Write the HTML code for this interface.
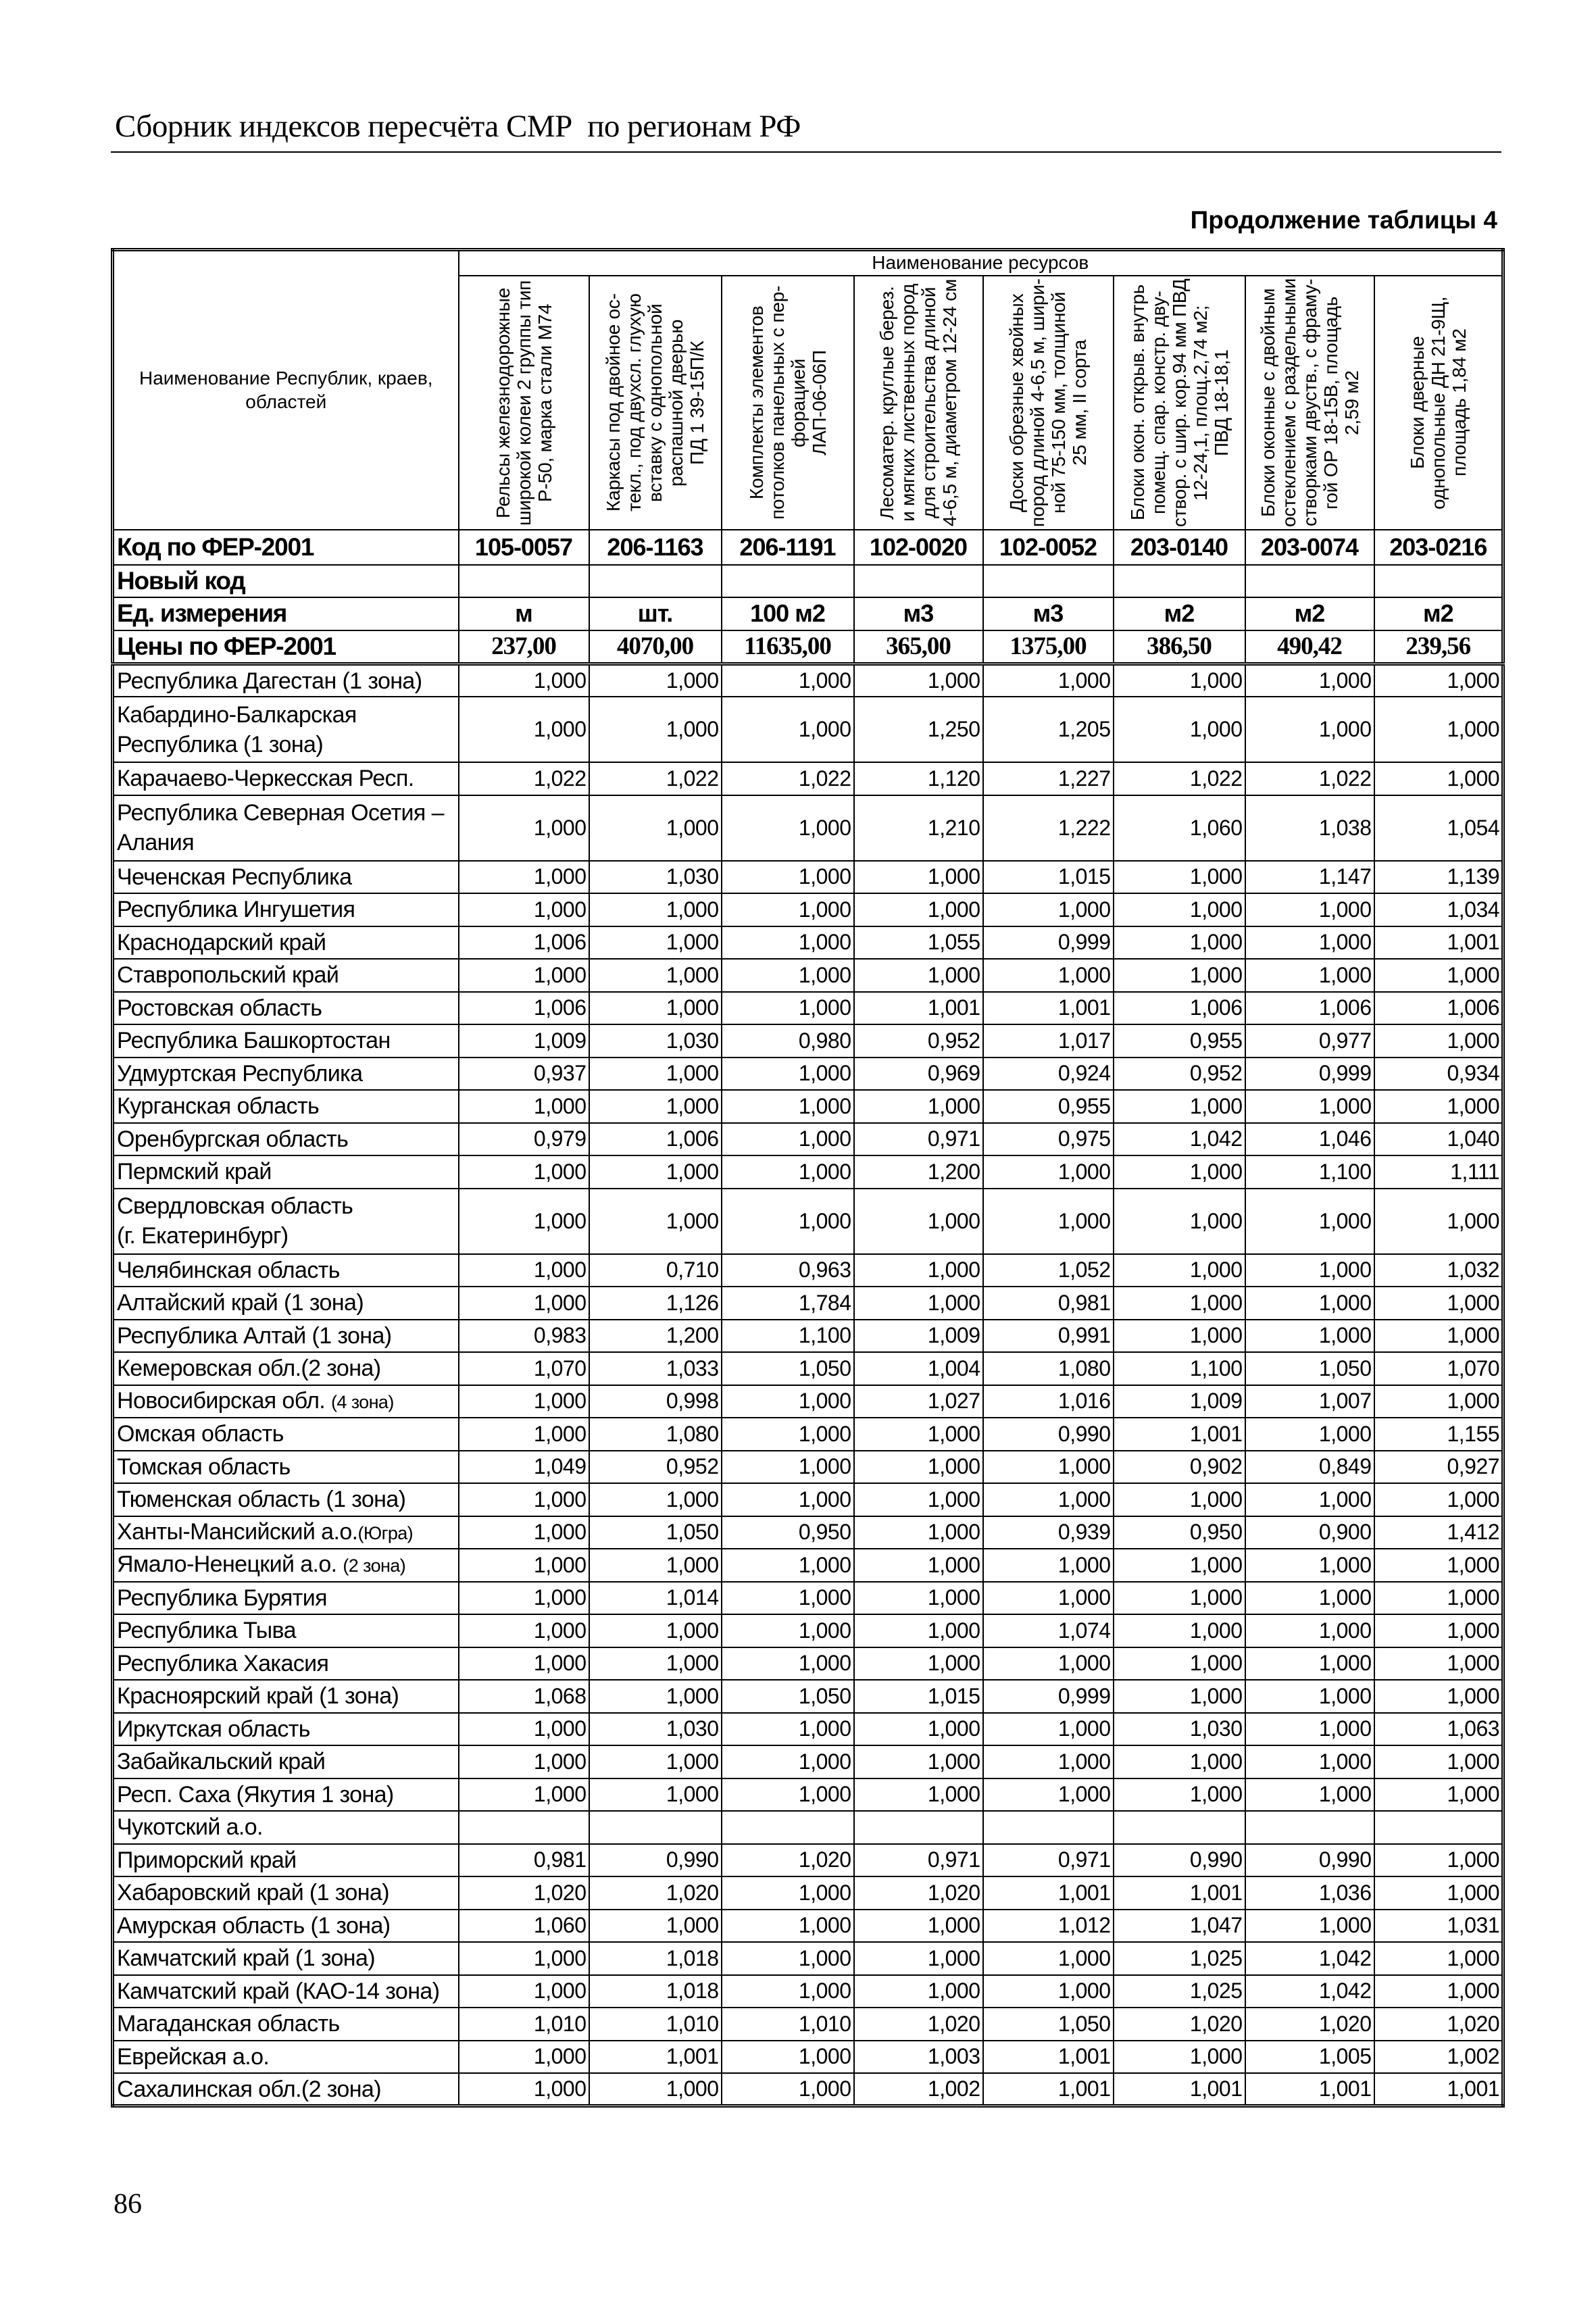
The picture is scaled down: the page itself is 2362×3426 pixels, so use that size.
<!DOCTYPE html>
<html><head><meta charset="utf-8">
<style>
html,body{margin:0;padding:0;background:#fff;}
body{width:2362px;height:3426px;position:relative;overflow:hidden;color:#000;font-family:"Liberation Sans",sans-serif;}
.hdr{position:absolute;left:170px;top:160px;font-family:"Liberation Serif",serif;font-size:47px;letter-spacing:-0.5px;white-space:nowrap;}
.hline{position:absolute;left:164px;top:224px;width:2058px;height:2px;background:#000;}
.cont{position:absolute;right:146px;top:305px;font-weight:bold;font-size:37px;white-space:nowrap;}
.pg{position:absolute;left:168px;top:3238px;font-family:"Liberation Serif",serif;font-size:42px;}
table{position:absolute;left:164px;top:367px;border-collapse:collapse;table-layout:fixed;width:2058px;border:5px double #000;}
td{border:2px solid #000;padding:0;overflow:hidden;box-sizing:border-box;}
.rh td{height:48.5px;}
.rh2 td{height:97px;}
.lab{font-size:34px;line-height:44px;padding-left:4px;letter-spacing:-0.6px;white-space:nowrap;}
.n{text-align:right;font-size:32px;padding-right:3px;letter-spacing:-0.5px;}
.b{font-weight:bold;font-size:37px;letter-spacing:-1.2px;padding-left:4px;white-space:nowrap;}
.bc{font-weight:bold;font-size:36px;letter-spacing:-1px;text-align:center;}
.pr{font-weight:bold;font-family:"Liberation Serif",serif;font-size:37px;text-align:center;letter-spacing:-1px;}
.vt{writing-mode:vertical-rl;transform:rotate(180deg);height:368px;margin:auto;font-size:28px;line-height:31px;text-align:center;white-space:nowrap;display:flex;justify-content:center;letter-spacing:-0.2px;}
.top td{height:38px;}
.dbl td{border-bottom:5px double #000;}
</style></head><body>
<div class="hdr">Сборник индексов пересчёта СМР&nbsp; по регионам РФ</div>
<div class="hline"></div>
<div class="cont">Продолжение таблицы 4</div>
<table>
<colgroup><col style="width:512px"><col style="width:193px"><col style="width:196px"><col style="width:196px"><col style="width:191px"><col style="width:193px"><col style="width:195px"><col style="width:191px"><col style="width:191px"></colgroup>
<tr class="top"><td rowspan="2" style="text-align:center;font-size:28px;line-height:35px;">Наименование Республик, краев,<br>областей</td><td colspan="8" style="text-align:center;font-size:28px;">Наименование ресурсов</td></tr>
<tr style="height:376px"><td><div class="vt">Рельсы железнодорожные<br>широкой колеи 2 группы тип<br>Р-50, марка стали М74</div></td>
<td><div class="vt">Каркасы под двойное ос-<br>текл., под двухсл. глухую<br>вставку с однопольной<br>распашной дверью<br>ПД 1 39-15П/К</div></td>
<td><div class="vt">Комплекты элементов<br>потолков панельных с пер-<br>форацией<br>ЛАП-06-06П</div></td>
<td><div class="vt">Лесоматер. круглые берез.<br>и мягких лиственных пород<br>для строительства длиной<br>4-6,5 м, диаметром 12-24 см</div></td>
<td><div class="vt">Доски обрезные хвойных<br>пород длиной 4-6,5 м, шири-<br>ной 75-150 мм, толщиной<br>25 мм, II сорта</div></td>
<td><div class="vt">Блоки окон. открыв. внутрь<br>помещ. спар. констр. дву-<br>створ. с шир. кор.94 мм ПВД<br>12-24,1, площ.2,74 м2;<br>ПВД 18-18,1</div></td>
<td><div class="vt">Блоки оконные с двойным<br>остеклением с раздельными<br>створками двуств., с фраму-<br>гой ОР 18-15В, площадь<br>2,59 м2</div></td>
<td><div class="vt">Блоки дверные<br>однопольные ДН 21-9Щ,<br>площадь 1,84 м2</div></td></tr>
<tr style="height:52px"><td class="b">Код по ФЕР-2001</td><td class="bc">105-0057</td><td class="bc">206-1163</td><td class="bc">206-1191</td><td class="bc">102-0020</td><td class="bc">102-0052</td><td class="bc">203-0140</td><td class="bc">203-0074</td><td class="bc">203-0216</td></tr>
<tr style="height:48px"><td class="b">Новый код</td><td></td><td></td><td></td><td></td><td></td><td></td><td></td><td></td></tr>
<tr style="height:49px"><td class="b">Ед. измерения</td><td class="bc">м</td><td class="bc">шт.</td><td class="bc">100 м2</td><td class="bc">м3</td><td class="bc">м3</td><td class="bc">м2</td><td class="bc">м2</td><td class="bc">м2</td></tr>
<tr class="dbl" style="height:50px"><td class="b">Цены по ФЕР-2001</td><td class="pr">237,00</td><td class="pr">4070,00</td><td class="pr">11635,00</td><td class="pr">365,00</td><td class="pr">1375,00</td><td class="pr">386,50</td><td class="pr">490,42</td><td class="pr">239,56</td></tr>
<tr class="rh"><td class="lab">Республика Дагестан (1 зона)</td><td class="n">1,000</td><td class="n">1,000</td><td class="n">1,000</td><td class="n">1,000</td><td class="n">1,000</td><td class="n">1,000</td><td class="n">1,000</td><td class="n">1,000</td></tr>
<tr class="rh2"><td class="lab">Кабардино-Балкарская<br>Республика (1 зона)</td><td class="n">1,000</td><td class="n">1,000</td><td class="n">1,000</td><td class="n">1,250</td><td class="n">1,205</td><td class="n">1,000</td><td class="n">1,000</td><td class="n">1,000</td></tr>
<tr class="rh"><td class="lab">Карачаево-Черкесская Респ.</td><td class="n">1,022</td><td class="n">1,022</td><td class="n">1,022</td><td class="n">1,120</td><td class="n">1,227</td><td class="n">1,022</td><td class="n">1,022</td><td class="n">1,000</td></tr>
<tr class="rh2"><td class="lab">Республика Северная Осетия –<br>Алания</td><td class="n">1,000</td><td class="n">1,000</td><td class="n">1,000</td><td class="n">1,210</td><td class="n">1,222</td><td class="n">1,060</td><td class="n">1,038</td><td class="n">1,054</td></tr>
<tr class="rh"><td class="lab">Чеченская Республика</td><td class="n">1,000</td><td class="n">1,030</td><td class="n">1,000</td><td class="n">1,000</td><td class="n">1,015</td><td class="n">1,000</td><td class="n">1,147</td><td class="n">1,139</td></tr>
<tr class="rh"><td class="lab">Республика Ингушетия</td><td class="n">1,000</td><td class="n">1,000</td><td class="n">1,000</td><td class="n">1,000</td><td class="n">1,000</td><td class="n">1,000</td><td class="n">1,000</td><td class="n">1,034</td></tr>
<tr class="rh"><td class="lab">Краснодарский край</td><td class="n">1,006</td><td class="n">1,000</td><td class="n">1,000</td><td class="n">1,055</td><td class="n">0,999</td><td class="n">1,000</td><td class="n">1,000</td><td class="n">1,001</td></tr>
<tr class="rh"><td class="lab">Ставропольский край</td><td class="n">1,000</td><td class="n">1,000</td><td class="n">1,000</td><td class="n">1,000</td><td class="n">1,000</td><td class="n">1,000</td><td class="n">1,000</td><td class="n">1,000</td></tr>
<tr class="rh"><td class="lab">Ростовская область</td><td class="n">1,006</td><td class="n">1,000</td><td class="n">1,000</td><td class="n">1,001</td><td class="n">1,001</td><td class="n">1,006</td><td class="n">1,006</td><td class="n">1,006</td></tr>
<tr class="rh"><td class="lab">Республика Башкортостан</td><td class="n">1,009</td><td class="n">1,030</td><td class="n">0,980</td><td class="n">0,952</td><td class="n">1,017</td><td class="n">0,955</td><td class="n">0,977</td><td class="n">1,000</td></tr>
<tr class="rh"><td class="lab">Удмуртская Республика</td><td class="n">0,937</td><td class="n">1,000</td><td class="n">1,000</td><td class="n">0,969</td><td class="n">0,924</td><td class="n">0,952</td><td class="n">0,999</td><td class="n">0,934</td></tr>
<tr class="rh"><td class="lab">Курганская область</td><td class="n">1,000</td><td class="n">1,000</td><td class="n">1,000</td><td class="n">1,000</td><td class="n">0,955</td><td class="n">1,000</td><td class="n">1,000</td><td class="n">1,000</td></tr>
<tr class="rh"><td class="lab">Оренбургская область</td><td class="n">0,979</td><td class="n">1,006</td><td class="n">1,000</td><td class="n">0,971</td><td class="n">0,975</td><td class="n">1,042</td><td class="n">1,046</td><td class="n">1,040</td></tr>
<tr class="rh"><td class="lab">Пермский край</td><td class="n">1,000</td><td class="n">1,000</td><td class="n">1,000</td><td class="n">1,200</td><td class="n">1,000</td><td class="n">1,000</td><td class="n">1,100</td><td class="n">1,111</td></tr>
<tr class="rh2"><td class="lab">Свердловская область<br>(г. Екатеринбург)</td><td class="n">1,000</td><td class="n">1,000</td><td class="n">1,000</td><td class="n">1,000</td><td class="n">1,000</td><td class="n">1,000</td><td class="n">1,000</td><td class="n">1,000</td></tr>
<tr class="rh"><td class="lab">Челябинская область</td><td class="n">1,000</td><td class="n">0,710</td><td class="n">0,963</td><td class="n">1,000</td><td class="n">1,052</td><td class="n">1,000</td><td class="n">1,000</td><td class="n">1,032</td></tr>
<tr class="rh"><td class="lab">Алтайский край (1 зона)</td><td class="n">1,000</td><td class="n">1,126</td><td class="n">1,784</td><td class="n">1,000</td><td class="n">0,981</td><td class="n">1,000</td><td class="n">1,000</td><td class="n">1,000</td></tr>
<tr class="rh"><td class="lab">Республика Алтай (1 зона)</td><td class="n">0,983</td><td class="n">1,200</td><td class="n">1,100</td><td class="n">1,009</td><td class="n">0,991</td><td class="n">1,000</td><td class="n">1,000</td><td class="n">1,000</td></tr>
<tr class="rh"><td class="lab">Кемеровская обл.(2 зона)</td><td class="n">1,070</td><td class="n">1,033</td><td class="n">1,050</td><td class="n">1,004</td><td class="n">1,080</td><td class="n">1,100</td><td class="n">1,050</td><td class="n">1,070</td></tr>
<tr class="rh"><td class="lab">Новосибирская обл. <span style="font-size:27px">(4 зона)</span></td><td class="n">1,000</td><td class="n">0,998</td><td class="n">1,000</td><td class="n">1,027</td><td class="n">1,016</td><td class="n">1,009</td><td class="n">1,007</td><td class="n">1,000</td></tr>
<tr class="rh"><td class="lab">Омская область</td><td class="n">1,000</td><td class="n">1,080</td><td class="n">1,000</td><td class="n">1,000</td><td class="n">0,990</td><td class="n">1,001</td><td class="n">1,000</td><td class="n">1,155</td></tr>
<tr class="rh"><td class="lab">Томская область</td><td class="n">1,049</td><td class="n">0,952</td><td class="n">1,000</td><td class="n">1,000</td><td class="n">1,000</td><td class="n">0,902</td><td class="n">0,849</td><td class="n">0,927</td></tr>
<tr class="rh"><td class="lab">Тюменская область (1 зона)</td><td class="n">1,000</td><td class="n">1,000</td><td class="n">1,000</td><td class="n">1,000</td><td class="n">1,000</td><td class="n">1,000</td><td class="n">1,000</td><td class="n">1,000</td></tr>
<tr class="rh"><td class="lab">Ханты-Мансийский а.о.<span style="font-size:27px">(Югра)</span></td><td class="n">1,000</td><td class="n">1,050</td><td class="n">0,950</td><td class="n">1,000</td><td class="n">0,939</td><td class="n">0,950</td><td class="n">0,900</td><td class="n">1,412</td></tr>
<tr class="rh"><td class="lab">Ямало-Ненецкий а.о. <span style="font-size:27px">(2 зона)</span></td><td class="n">1,000</td><td class="n">1,000</td><td class="n">1,000</td><td class="n">1,000</td><td class="n">1,000</td><td class="n">1,000</td><td class="n">1,000</td><td class="n">1,000</td></tr>
<tr class="rh"><td class="lab">Республика Бурятия</td><td class="n">1,000</td><td class="n">1,014</td><td class="n">1,000</td><td class="n">1,000</td><td class="n">1,000</td><td class="n">1,000</td><td class="n">1,000</td><td class="n">1,000</td></tr>
<tr class="rh"><td class="lab">Республика Тыва</td><td class="n">1,000</td><td class="n">1,000</td><td class="n">1,000</td><td class="n">1,000</td><td class="n">1,074</td><td class="n">1,000</td><td class="n">1,000</td><td class="n">1,000</td></tr>
<tr class="rh"><td class="lab">Республика Хакасия</td><td class="n">1,000</td><td class="n">1,000</td><td class="n">1,000</td><td class="n">1,000</td><td class="n">1,000</td><td class="n">1,000</td><td class="n">1,000</td><td class="n">1,000</td></tr>
<tr class="rh"><td class="lab">Красноярский край (1 зона)</td><td class="n">1,068</td><td class="n">1,000</td><td class="n">1,050</td><td class="n">1,015</td><td class="n">0,999</td><td class="n">1,000</td><td class="n">1,000</td><td class="n">1,000</td></tr>
<tr class="rh"><td class="lab">Иркутская область</td><td class="n">1,000</td><td class="n">1,030</td><td class="n">1,000</td><td class="n">1,000</td><td class="n">1,000</td><td class="n">1,030</td><td class="n">1,000</td><td class="n">1,063</td></tr>
<tr class="rh"><td class="lab">Забайкальский край</td><td class="n">1,000</td><td class="n">1,000</td><td class="n">1,000</td><td class="n">1,000</td><td class="n">1,000</td><td class="n">1,000</td><td class="n">1,000</td><td class="n">1,000</td></tr>
<tr class="rh"><td class="lab">Респ. Саха (Якутия 1 зона)</td><td class="n">1,000</td><td class="n">1,000</td><td class="n">1,000</td><td class="n">1,000</td><td class="n">1,000</td><td class="n">1,000</td><td class="n">1,000</td><td class="n">1,000</td></tr>
<tr class="rh"><td class="lab">Чукотский а.о.</td><td></td><td></td><td></td><td></td><td></td><td></td><td></td><td></td></tr>
<tr class="rh"><td class="lab">Приморский край</td><td class="n">0,981</td><td class="n">0,990</td><td class="n">1,020</td><td class="n">0,971</td><td class="n">0,971</td><td class="n">0,990</td><td class="n">0,990</td><td class="n">1,000</td></tr>
<tr class="rh"><td class="lab">Хабаровский край (1 зона)</td><td class="n">1,020</td><td class="n">1,020</td><td class="n">1,000</td><td class="n">1,020</td><td class="n">1,001</td><td class="n">1,001</td><td class="n">1,036</td><td class="n">1,000</td></tr>
<tr class="rh"><td class="lab">Амурская область (1 зона)</td><td class="n">1,060</td><td class="n">1,000</td><td class="n">1,000</td><td class="n">1,000</td><td class="n">1,012</td><td class="n">1,047</td><td class="n">1,000</td><td class="n">1,031</td></tr>
<tr class="rh"><td class="lab">Камчатский край (1 зона)</td><td class="n">1,000</td><td class="n">1,018</td><td class="n">1,000</td><td class="n">1,000</td><td class="n">1,000</td><td class="n">1,025</td><td class="n">1,042</td><td class="n">1,000</td></tr>
<tr class="rh"><td class="lab">Камчатский край (КАО-14 зона)</td><td class="n">1,000</td><td class="n">1,018</td><td class="n">1,000</td><td class="n">1,000</td><td class="n">1,000</td><td class="n">1,025</td><td class="n">1,042</td><td class="n">1,000</td></tr>
<tr class="rh"><td class="lab">Магаданская область</td><td class="n">1,010</td><td class="n">1,010</td><td class="n">1,010</td><td class="n">1,020</td><td class="n">1,050</td><td class="n">1,020</td><td class="n">1,020</td><td class="n">1,020</td></tr>
<tr class="rh"><td class="lab">Еврейская а.о.</td><td class="n">1,000</td><td class="n">1,001</td><td class="n">1,000</td><td class="n">1,003</td><td class="n">1,001</td><td class="n">1,000</td><td class="n">1,005</td><td class="n">1,002</td></tr>
<tr class="rh"><td class="lab">Сахалинская обл.(2 зона)</td><td class="n">1,000</td><td class="n">1,000</td><td class="n">1,000</td><td class="n">1,002</td><td class="n">1,001</td><td class="n">1,001</td><td class="n">1,001</td><td class="n">1,001</td></tr>
</table>
<div class="pg">86</div>
</body></html>
